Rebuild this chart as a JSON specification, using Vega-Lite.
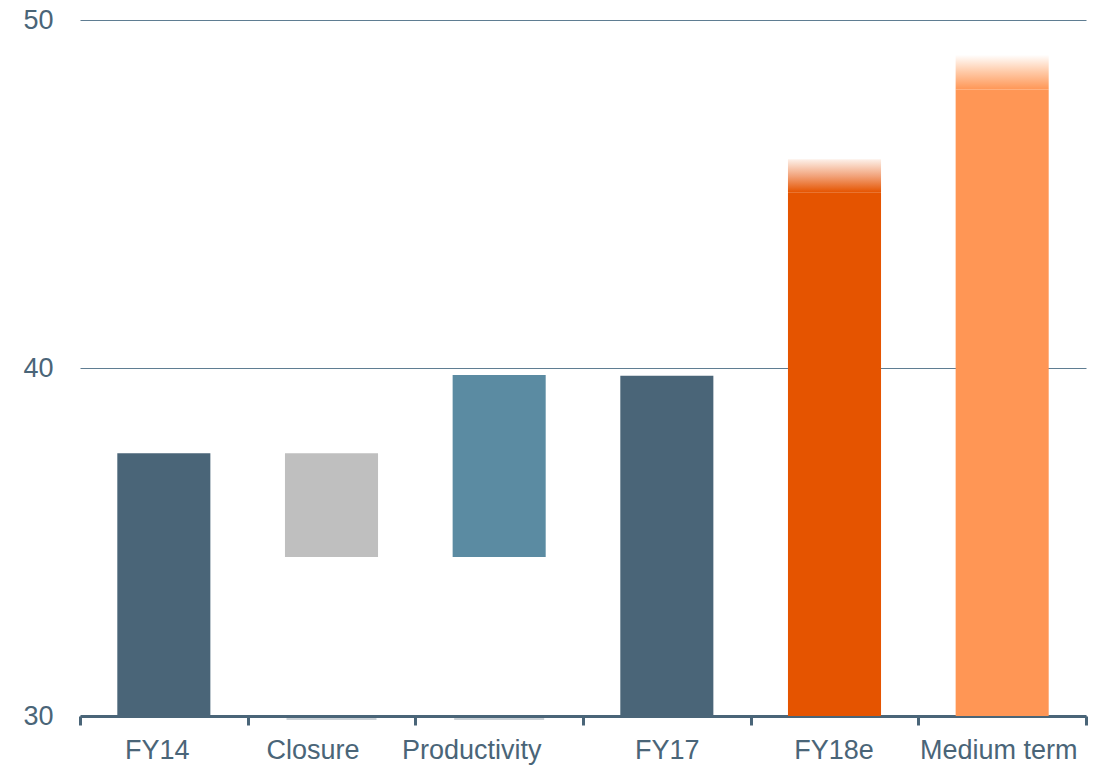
{
  "$schema": "https://vega.github.io/schema/vega-lite/v6.json",
  "autosize": "none",
  "width": 1006,
  "height": 696,
  "padding": {"left": 80, "top": 20, "right": 21, "bottom": 50},
  "background": "white",
  "config": {"view": {"stroke": null}, "font": "Liberation Sans"},
  "data": {"values": [
    {"category": "FY14", "start": 30, "solid_end": 37.55, "end": 37.55, "group": "actual", "fade": "none"},
    {"category": "Closure", "start": 34.57, "solid_end": 37.55, "end": 37.55, "group": "closure", "fade": "none"},
    {"category": "Productivity", "start": 34.57, "solid_end": 39.8, "end": 39.8, "group": "productivity", "fade": "none"},
    {"category": "FY17", "start": 30, "solid_end": 39.78, "end": 39.78, "group": "actual", "fade": "none"},
    {"category": "FY18e", "start": 30, "solid_end": 45.05, "end": 46.0, "group": "fy18e", "fade": "fy18e"},
    {"category": "Medium term", "start": 30, "solid_end": 48.0, "end": 49.0, "group": "medium", "fade": "medium"}
  ]},
  "encoding": {
    "x": {
      "field": "category", "type": "nominal", "sort": null,
      "scale": {"paddingInner": 0, "paddingOuter": 0},
      "axis": {
        "title": null, "labelAngle": 0, "labelFontSize": 27, "labelColor": "#4a6578",
        "labelFont": "Liberation Sans", "domainColor": "#4a6578", "domainWidth": 3,
        "tickColor": "#4a6578", "tickWidth": 3, "tickSize": 9, "tickBand": "extent",
        "labelPadding": 12, "grid": false,
        "labelOffset": {
          "condition": [
            {"test": "datum.value === 'FY14'", "value": -7},
            {"test": "datum.value === 'Closure'", "value": -19},
            {"test": "datum.value === 'Productivity'", "value": -28},
            {"test": "datum.value === 'FY18e'", "value": -1},
            {"test": "datum.value === 'Medium term'", "value": -4}
          ],
          "value": 0
        }
      }
    }
  },
  "layer": [
    {
      "mark": {"type": "bar", "width": {"band": 0.555}},
      "encoding": {
        "y": {
          "field": "start", "type": "quantitative",
          "scale": {"domain": [30, 50], "nice": false, "zero": false},
          "axis": {
            "title": null, "values": [30, 40, 50], "domain": false, "ticks": false,
            "labelFontSize": 27, "labelColor": "#4a6578", "labelFont": "Liberation Sans",
            "labelPadding": 27, "gridColor": "#5f7d92", "gridWidth": 1
          }
        },
        "y2": {"field": "solid_end"},
        "color": {
          "field": "group", "type": "nominal", "legend": null,
          "scale": {
            "domain": ["actual", "closure", "productivity", "fy18e", "medium"],
            "range": ["#4a6578", "#bfbfbf", "#5b8ba2", "#e55400", "#ff9655"]
          }
        }
      }
    },
    {
      "transform": [{"filter": "datum.fade === 'fy18e'"}],
      "mark": {
        "type": "bar", "width": {"band": 0.555},
        "color": {
          "gradient": "linear", "x1": 0, "y1": 0, "x2": 0, "y2": 1,
          "stops": [
            {"offset": 0, "color": "#fdf1ea"},
            {"offset": 0.5, "color": "#f2a47c"},
            {"offset": 1, "color": "#e55400"}
          ]
        }
      },
      "encoding": {
        "y": {"field": "solid_end", "type": "quantitative"},
        "y2": {"field": "end"}
      }
    },
    {
      "transform": [{"filter": "datum.fade === 'medium'"}],
      "mark": {
        "type": "bar", "width": {"band": 0.555},
        "color": {
          "gradient": "linear", "x1": 0, "y1": 0, "x2": 0, "y2": 1,
          "stops": [
            {"offset": 0, "color": "#ffffff"},
            {"offset": 0.5, "color": "#ffc9a6"},
            {"offset": 1, "color": "#ff9655"}
          ]
        }
      },
      "encoding": {
        "y": {"field": "solid_end", "type": "quantitative"},
        "y2": {"field": "end"}
      }
    },
    {
      "transform": [{"filter": "datum.start > 30"}],
      "mark": {"type": "tick", "color": "#7f909c", "thickness": 1, "size": 90, "yOffset": 3, "opacity": 0.8},
      "encoding": {
        "y": {"datum": 30, "type": "quantitative"}
      }
    }
  ]
}
